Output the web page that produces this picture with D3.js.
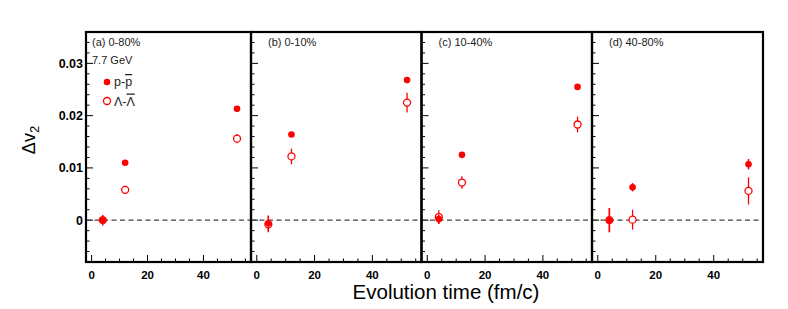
<!DOCTYPE html>
<html><head><meta charset="utf-8">
<script src="https://cdn.jsdelivr.net/npm/d3@7"></script>
<style>body{margin:0;background:#fff}svg{display:block}text{font-family:"Liberation Sans",Arial,sans-serif}</style>
</head><body><svg id="c" width="788" height="309"></svg>
<script>
const panelLabels = ["(a) 0-80%", "(b) 0-10%", "(c) 10-40%", "(d) 40-80%"];
const times = [4, 12, 52];
const pVals = [[0.0000, 0.0110, 0.0213],[-0.0006, 0.0164, 0.0268],[0.0002, 0.0125, 0.0255],[0.0000, 0.0063, 0.0107]];
const pErrs = [[0.0010, 0.0003, 0.0003],[0.0015, 0.0004, 0.0004],[0.0009, 0.0003, 0.0003],[0.0023, 0.0008, 0.0010]];
const lVals = [[0.0000, 0.0058, 0.0156],[-0.0008, 0.0122, 0.0225],[0.0006, 0.0072, 0.0183],[0.0000, 0.0001, 0.0056]];
const lErrs = [[0.0007, 0.0008, 0.0009],[0.0015, 0.0015, 0.0019],[0.0013, 0.0012, 0.0015],[0.0023, 0.0019, 0.0026]];
const yTicks = [0, 0.01, 0.02, 0.03];
const yTickLabels = ["0", "0.01", "0.02", "0.03"];
const xTicks = [0, 20, 40];

const svg = d3.select("#c");
const red = "#ff0000";
const panelEdges = [86, 251, 421.5, 592, 763];
const plotTop = 32, plotBottom = 262;
const y = d3.scaleLinear().domain([-0.008, 0.036]).range([plotBottom, plotTop]);

panelLabels.forEach((lab, i) => {
  const x0 = panelEdges[i], x1 = panelEdges[i+1];
  const x = d3.scaleLinear().domain([-2, 57]).range([x0, x1]);
  const g = svg.append("g");
  const yMinor = d3.range(-0.008, 0.0361, 0.002);
  yMinor.forEach(v => {
    const major = Math.abs(Math.round(v*100) - v*100) < 1e-6;
    g.append("line").attr("x1", x0).attr("x2", x0 + (major ? 7 : 3.5))
      .attr("y1", y(v)).attr("y2", y(v)).attr("stroke", "#000").attr("stroke-width", 1);
  });
  d3.range(0, 57, 5).forEach(v => {
    const major = v % 20 === 0;
    g.append("line").attr("x1", x(v)).attr("x2", x(v))
      .attr("y1", plotBottom).attr("y2", plotBottom - (major ? 7 : 3.5)).attr("stroke", "#000").attr("stroke-width", 1);
  });
  xTicks.forEach(v => {
    g.append("text").attr("x", x(v)).attr("y", 279).attr("text-anchor", "middle")
      .attr("font-size", 11.5).attr("font-weight", "bold").text(v);
  });
  g.append("line").attr("x1", x0).attr("x2", x1).attr("y1", y(0)).attr("y2", y(0))
    .attr("stroke", "#444").attr("stroke-width", 1.3).attr("stroke-dasharray", "5,3.5");
  times.forEach((t, j) => {
    const cx = x(t), cy = y(lVals[i][j]), e = lErrs[i][j];
    const r = 3.5;
    if (y(lVals[i][j] + e) < cy - r) g.append("line").attr("x1", cx).attr("x2", cx).attr("y1", y(lVals[i][j] + e)).attr("y2", cy - r).attr("stroke", red).attr("stroke-width", 1.3);
    if (y(lVals[i][j] - e) > cy + r) g.append("line").attr("x1", cx).attr("x2", cx).attr("y1", cy + r).attr("y2", y(lVals[i][j] - e)).attr("stroke", red).attr("stroke-width", 1.3);
    g.append("circle").attr("cx", cx).attr("cy", cy).attr("r", r).attr("fill", "#fff").attr("stroke", red).attr("stroke-width", 1.3);
  });
  times.forEach((t, j) => {
    const cx = x(t), cy = y(pVals[i][j]), e = pErrs[i][j];
    g.append("line").attr("x1", cx).attr("x2", cx).attr("y1", y(pVals[i][j] + e)).attr("y2", y(pVals[i][j] - e)).attr("stroke", red).attr("stroke-width", 1.5);
    g.append("circle").attr("cx", cx).attr("cy", cy).attr("r", 3.3).attr("fill", red);
  });
  g.append("text").attr("x", x0 + (i === 0 ? 6 : 17)).attr("y", 46).attr("font-size", 11).attr("fill", "#222").text(lab);
  g.append("rect").attr("x", x0).attr("y", plotTop).attr("width", x1 - x0).attr("height", plotBottom - plotTop)
    .attr("fill", "none").attr("stroke", "#000").attr("stroke-width", 2.2);
});

yTicks.forEach((v, k) => {
  svg.append("text").attr("x", 83).attr("y", y(v) + 4.5).attr("text-anchor", "end")
    .attr("font-size", 12.5).attr("font-weight", "bold").text(yTickLabels[k]);
});
svg.append("text").attr("x", 92).attr("y", 64).attr("font-size", 11).attr("fill", "#222").text("7.7 GeV");
svg.append("circle").attr("cx", 107).attr("cy", 82).attr("r", 3.3).attr("fill", red);
const t1 = svg.append("text").attr("x", 114).attr("y", 86).attr("font-size", 12.5).attr("fill", "#222");
t1.append("tspan").text("p-");
t1.append("tspan").style("text-decoration", "overline").text("p");
svg.append("circle").attr("cx", 107).attr("cy", 101).attr("r", 3.5).attr("fill", "#fff").attr("stroke", red).attr("stroke-width", 1.3);
const t2 = svg.append("text").attr("x", 114).attr("y", 105.5).attr("font-size", 12.5).attr("fill", "#222");
t2.append("tspan").text("Λ-");
t2.append("tspan").style("text-decoration", "overline").text("Λ");

const yt = svg.append("text").attr("transform", "translate(35,140) rotate(-90)").attr("text-anchor", "middle").attr("font-size", 18);
yt.append("tspan").text("Δv");
yt.append("tspan").attr("font-size", 13).attr("dy", 4).text("2");
svg.append("text").attr("x", 446).attr("y", 299).attr("text-anchor", "middle").attr("font-size", 20.5).text("Evolution time (fm/c)");
</script></body></html>
